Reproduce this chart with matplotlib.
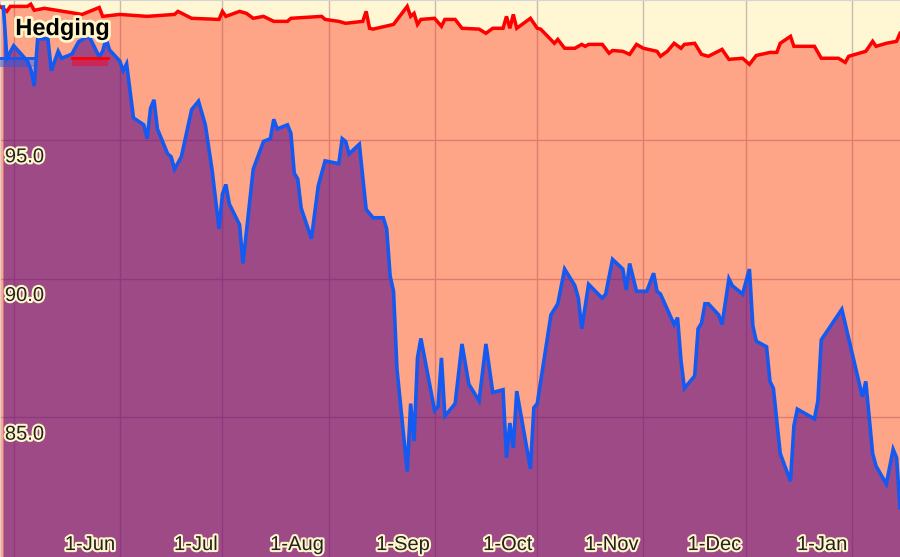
"""Hedging chart: red hedge line over blue price line, both with filled areas."""

import matplotlib

matplotlib.use("Agg")
import matplotlib.dates as mdates
import matplotlib.patheffects as pe
import matplotlib.pyplot as plt
import pandas as pd
from matplotlib.lines import Line2D
from matplotlib.patches import Rectangle

plt.rcParams["font.family"] = ["Liberation Sans", "DejaVu Sans"]

# blue series (price)
blue_dates = [
    "2014-04-28", "2014-04-29",
    "2014-05-01", "2014-05-05", "2014-05-06", "2014-05-07", "2014-05-08", "2014-05-11",
    "2014-05-12", "2014-05-14", "2014-05-15", "2014-05-18", "2014-05-20", "2014-05-23",
    "2014-05-26", "2014-05-27", "2014-05-28", "2014-05-29",
    "2014-06-01", "2014-06-02", "2014-06-03", "2014-06-05", "2014-06-08", "2014-06-09",
    "2014-06-10", "2014-06-11", "2014-06-12", "2014-06-15", "2014-06-16", "2014-06-17",
    "2014-06-19", "2014-06-22", "2014-06-24", "2014-06-26", "2014-06-28", "2014-06-30",
    "2014-07-01", "2014-07-02", "2014-07-03", "2014-07-06", "2014-07-07", "2014-07-10",
    "2014-07-13", "2014-07-15", "2014-07-16", "2014-07-17", "2014-07-20", "2014-07-21",
    "2014-07-22", "2014-07-23", "2014-07-24", "2014-07-27", "2014-07-29", "2014-07-31",
    "2014-08-04", "2014-08-05", "2014-08-06", "2014-08-07", "2014-08-10", "2014-08-12",
    "2014-08-13", "2014-08-14", "2014-08-17", "2014-08-18", "2014-08-19", "2014-08-20",
    "2014-08-21", "2014-08-24", "2014-08-25", "2014-08-26", "2014-08-27", "2014-08-28",
    "2014-09-01", "2014-09-02", "2014-09-03", "2014-09-04", "2014-09-07", "2014-09-09",
    "2014-09-11", "2014-09-14", "2014-09-16", "2014-09-18", "2014-09-21", "2014-09-22",
    "2014-09-23", "2014-09-24", "2014-09-25", "2014-09-29", "2014-09-30",
    "2014-10-01", "2014-10-05", "2014-10-07", "2014-10-09", "2014-10-12", "2014-10-13",
    "2014-10-14", "2014-10-16", "2014-10-20", "2014-10-21", "2014-10-23", "2014-10-26",
    "2014-10-27", "2014-10-28", "2014-10-30",
    "2014-11-02", "2014-11-04", "2014-11-05", "2014-11-06", "2014-11-10", "2014-11-11",
    "2014-11-12", "2014-11-13", "2014-11-16", "2014-11-17", "2014-11-18", "2014-11-19",
    "2014-11-20", "2014-11-23", "2014-11-24", "2014-11-26", "2014-11-27", "2014-11-30",
    "2014-12-02", "2014-12-03", "2014-12-04", "2014-12-07", "2014-12-08", "2014-12-09",
    "2014-12-11", "2014-12-14", "2014-12-15", "2014-12-16", "2014-12-21", "2014-12-22",
    "2014-12-23", "2014-12-29",
    "2015-01-04", "2015-01-05", "2015-01-07", "2015-01-08", "2015-01-11", "2015-01-13",
    "2015-01-14", "2015-01-15",
]
blue_values = [
    99.8, 97.95,
    98.4, 97.85, 97.55, 96.95, 98.65, 98.65,
    97.5, 98.2, 97.95, 98.1, 98.55, 98.75,
    98.0, 98.2, 98.65, 98.25,
    97.85, 97.5, 97.75, 95.8, 95.55, 95.05,
    96.15, 96.45, 95.4, 94.5, 94.4, 93.95,
    94.4, 96.1, 96.4, 95.55, 93.9, 91.8,
    93.05, 93.4, 92.7, 91.95, 90.55, 93.95,
    94.95, 95.05, 95.75, 95.4, 95.55, 95.25,
    93.8, 93.6, 92.55, 91.45, 93.35, 94.25,
    94.15, 95.05, 94.95, 94.5, 94.85, 92.5,
    92.35, 92.2, 92.2, 91.8, 90.1, 89.55,
    86.75, 83.05, 85.5, 84.15, 87.15, 87.85,
    85.25, 85.4, 87.15, 85.05, 85.5, 87.65,
    86.2, 85.6, 87.65, 85.9, 86.0, 83.55,
    84.8, 83.9, 85.95, 83.15, 85.35,
    85.5, 88.7, 89.1, 90.35, 89.75, 89.3,
    88.2, 89.8, 89.3, 89.45, 90.7, 90.35,
    89.6, 90.55, 89.55,
    89.55, 90.2, 89.55, 89.45, 88.35, 88.6,
    87.05, 86.05, 86.5, 88.2, 88.4, 89.1,
    89.1, 88.7, 88.35, 90.0, 89.75, 89.45,
    90.35, 88.3, 87.75, 87.55, 86.3, 86.05,
    83.7, 82.7, 84.7, 85.3, 84.95, 85.6,
    87.8, 88.9,
    85.75, 86.3, 83.7, 83.25, 82.6, 83.85,
    83.55, 81.75,
]

# red series (hedge)
red_dates = [
    "2014-04-27", "2014-04-29", "2014-04-30", "2014-05-05", "2014-05-06", "2014-05-07",
    "2014-05-10", "2014-05-21", "2014-05-26", "2014-05-27",
    "2014-06-01", "2014-06-09", "2014-06-17", "2014-06-18", "2014-06-22", "2014-06-30",
    "2014-07-01", "2014-07-02", "2014-07-06", "2014-07-08", "2014-07-10", "2014-07-13",
    "2014-07-16", "2014-07-20", "2014-07-21", "2014-07-30", "2014-07-31",
    "2014-08-04", "2014-08-06", "2014-08-11", "2014-08-12", "2014-08-13", "2014-08-14",
    "2014-08-20", "2014-08-24", "2014-08-25", "2014-08-26", "2014-08-27", "2014-08-28",
    "2014-09-01", "2014-09-03", "2014-09-04", "2014-09-07", "2014-09-09", "2014-09-14",
    "2014-09-16", "2014-09-18", "2014-09-21", "2014-09-22", "2014-09-23", "2014-09-24",
    "2014-09-25", "2014-09-29",
    "2014-10-01", "2014-10-02", "2014-10-06", "2014-10-07", "2014-10-09", "2014-10-12",
    "2014-10-14", "2014-10-15", "2014-10-16", "2014-10-20", "2014-10-22", "2014-10-23",
    "2014-10-26", "2014-10-28", "2014-10-30",
    "2014-11-01", "2014-11-05", "2014-11-06", "2014-11-08", "2014-11-10", "2014-11-12",
    "2014-11-13", "2014-11-16", "2014-11-18", "2014-11-20", "2014-11-24", "2014-11-26",
    "2014-11-30",
    "2014-12-02", "2014-12-04", "2014-12-08", "2014-12-10", "2014-12-11", "2014-12-14",
    "2014-12-15", "2014-12-21", "2014-12-23", "2014-12-28", "2014-12-30", "2014-12-31",
    "2015-01-05", "2015-01-07", "2015-01-08", "2015-01-11", "2015-01-14", "2015-01-15",
]
red_values = [
    99.82, 99.64, 99.82, 99.82, 99.9, 99.68,
    99.75, 99.53, 99.78, 99.46,
    99.53, 99.46, 99.53, 99.64, 99.39, 99.35,
    99.64, 99.46, 99.64, 99.57, 99.39, 99.46,
    99.28, 99.28, 99.39, 99.46, 99.35,
    99.28, 99.21, 99.28, 99.64, 99.03, 99.0,
    99.17, 99.82, 99.46, 99.57, 99.17, 99.35,
    99.39, 99.1, 99.35, 99.35, 99.03, 99.0,
    98.85, 99.03, 99.03, 99.46, 99.03, 99.53,
    99.03, 99.39,
    99.03, 99.0, 98.49, 98.63, 98.31, 98.31,
    98.45, 98.38, 98.45, 98.45, 98.13, 98.23,
    98.2, 98.09, 98.45,
    98.31, 98.2, 98.02, 98.2, 98.49, 98.31,
    98.45, 98.49, 98.09, 98.02, 98.27, 97.91,
    97.95,
    97.73, 98.05, 98.16, 98.16, 98.49, 98.74,
    98.38, 98.38, 97.95, 97.95, 97.8, 98.02,
    98.2, 98.56, 98.38, 98.49, 98.56, 98.85,
]

month_ticks = [
    "2014-05-01", "2014-06-01", "2014-07-01", "2014-08-01", "2014-09-01",
    "2014-10-01", "2014-11-01", "2014-12-01", "2015-01-01",
]
month_labels = ["", "1-Jun", "1-Jul", "1-Aug", "1-Sep", "1-Oct", "1-Nov", "1-Dec", "1-Jan"]
y_ticks = [85.0, 90.0, 95.0]

X_START, X_END = "2014-04-27", "2015-01-15"
Y_MIN, Y_MAX = 79.97, 100.05

BG = "#FFF7D4"
RED = "#FF0000"
BLUE = "#145AF0"
HALO = "#FFF6CC"

bx = mdates.date2num(pd.to_datetime(blue_dates))
rx = mdates.date2num(pd.to_datetime(red_dates))

fig = plt.figure(figsize=(9, 5.57), dpi=100)
ax = fig.add_axes([0, 0, 1, 1])
ax.set_facecolor(BG)

ax.fill_between(rx, red_values, Y_MIN - 1, color="#FF1400", alpha=0.36, lw=0)
ax.fill_between(bx, blue_values, Y_MIN - 1, color="#4F0088", alpha=0.55, lw=0)
ax.plot(rx, red_values, color=RED, lw=2.5, solid_joinstyle="miter", zorder=3)
ax.plot(bx, blue_values, color=BLUE, lw=2.6, solid_joinstyle="miter", zorder=4)

ax.set_xlim(mdates.date2num(pd.Timestamp(X_START)), mdates.date2num(pd.Timestamp(X_END)))
ax.set_ylim(Y_MIN, Y_MAX)

# grid sits under the translucent fills
tick_pos = mdates.date2num(pd.to_datetime(month_ticks))
ax.set_xticks(tick_pos)
ax.set_yticks(y_ticks)
ax.set_axisbelow(True)
ax.grid(True, color="#CCB8B0", lw=1)
ax.tick_params(length=0, labelbottom=False, labelleft=False)
for name, spine in ax.spines.items():
    spine.set_visible(name in ("top", "left"))
    spine.set_color("#D4D4D4")

outline = [pe.withStroke(linewidth=3, foreground=HALO)]
for pos, label in zip(tick_pos, month_labels):
    ax.annotate(label, xy=(pos, 0), xycoords=("data", "axes fraction"),
                xytext=(-3.5, 5), textcoords="offset points",
                ha="right", va="baseline", fontsize=14.5, color="#222222",
                path_effects=outline, zorder=6)
for v in y_ticks:
    ax.annotate(f"{v:.1f}", xy=(0, v), xycoords=("axes fraction", "data"),
                xytext=(3.5, -16), textcoords="offset points",
                ha="left", va="baseline", fontsize=14.5, color="#222222",
                path_effects=outline, zorder=6)

# legend-style title and swatches
ax.text(0.017, 0.937, "Hedging", transform=ax.transAxes, ha="left", va="baseline",
        fontsize=17, fontweight="bold", color="black",
        path_effects=[pe.withStroke(linewidth=4, foreground=HALO)], zorder=7)
ax.add_patch(Rectangle((0.0, 0.88), 0.039, 0.018, transform=ax.transAxes,
                       facecolor=BLUE, alpha=0.45, lw=0, zorder=5))
ax.add_line(Line2D([0.0, 0.039], [0.896, 0.896], transform=ax.transAxes,
                   color=BLUE, lw=2, zorder=5))
ax.add_patch(Rectangle((0.08, 0.882), 0.04, 0.016, transform=ax.transAxes,
                       facecolor="#E8103A", alpha=0.6, lw=0, zorder=5))
ax.add_line(Line2D([0.08, 0.12], [0.896, 0.896], transform=ax.transAxes,
                   color=RED, lw=2, zorder=5))

fig.savefig("out.png", dpi=100, facecolor=BG)
